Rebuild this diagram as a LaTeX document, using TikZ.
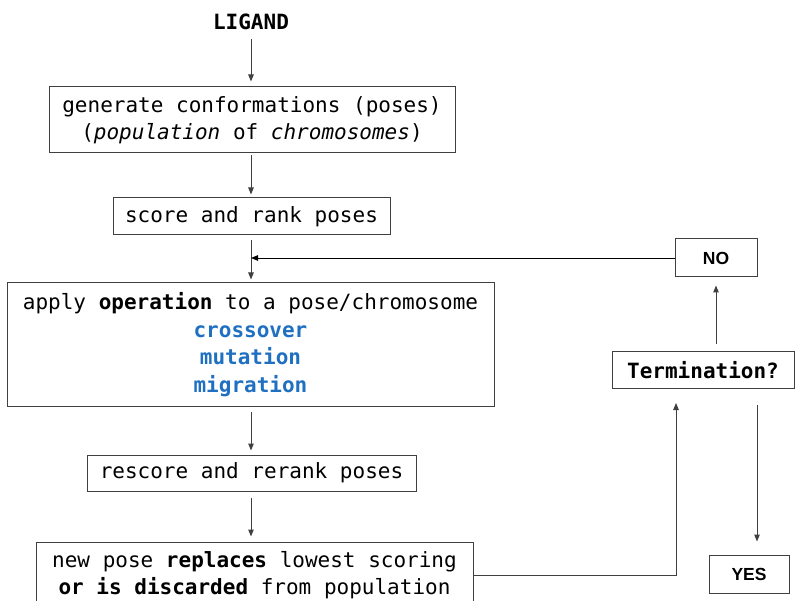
\documentclass[tikz,border=0pt]{standalone}
\usepackage{fontspec}
\setmonofont{DejaVu Sans Mono}
\newfontfamily\labfont{Liberation Sans}
\usetikzlibrary{arrows.meta}
\definecolor{opblue}{HTML}{1F70C0}
\definecolor{linegray}{HTML}{404040}
\tikzset{
  txt/.style={font=\ttfamily\fontsize{21}{27.5}\selectfont, align=center, inner sep=0pt},
  boxnode/.style={txt, draw=linegray, line width=1pt, rectangle},
  lab/.style={font=\labfont\bfseries\fontsize{17.5}{21}\selectfont, draw=linegray, line width=1pt, inner sep=0pt},
  conn/.style={draw=linegray, line width=1pt, -{Triangle[length=7pt,width=5.5pt]}}
}
\begin{document}
\begin{tikzpicture}[x=1pt,y=-1pt]
\useasboundingbox (0,0) rectangle (795,601);
\node[txt, font=\ttfamily\bfseries\fontsize{21}{27.5}\selectfont] (lig) at (251,22) {LIGAND};
\node[boxnode, minimum width=406pt, minimum height=66pt] (b1) at (252,120)
  {generate conformations (poses)\\(\textit{population} of \textit{chromosomes})};
\node[boxnode, minimum width=277pt, minimum height=37pt] (b2) at (251.5,216.5)
  {score and rank poses};
\node[boxnode, minimum width=487pt, minimum height=123pt] (b3) at (250.5,344.5)
  {apply \textbf{operation} to a pose/chromosome\\
   \textcolor{opblue}{\textbf{crossover}}\\
   \textcolor{opblue}{\textbf{mutation}}\\
   \textcolor{opblue}{\textbf{migration}}};
\node[boxnode, minimum width=329pt, minimum height=36pt] (b4) at (251.5,473)
  {rescore and rerank poses};
\node[boxnode, minimum width=437pt, minimum height=66pt] (b5) at (254.5,575)
  {new pose \textbf{replaces} lowest scoring\\\textbf{or is discarded} from population};
\node[lab, minimum width=82pt, minimum height=38pt] (no) at (716,258) {NO};
\node[boxnode, font=\ttfamily\bfseries\fontsize{21}{27.5}\selectfont, minimum width=182pt, minimum height=37pt] (term) at (703,370.5) {Termination?};
\node[lab, minimum width=80pt, minimum height=38pt] (yes) at (749,574) {YES};

\coordinate (join) at (251,258);
\coordinate (tin) at (676,389);
\coordinate (tout) at (757,389);

\draw[conn, shorten <=9pt, shorten >=5pt] (lig.south) -- (lig.south |- b1.north);
\draw[conn, shorten <=2pt, shorten >=3pt] (lig.south |- b1.south) -- (lig.south |- b2.north);
\draw[conn, shorten <=5pt, shorten >=3pt] (lig.south |- b2.south) -- (lig.south |- b3.north);
\draw[conn, draw=black, line width=0.9pt] (no.west) -- (join);
\draw[conn, shorten <=7pt, shorten >=8pt] (no.south |- term.north) -- (no.south);
\draw[conn, shorten <=5pt, shorten >=4pt] (lig.south |- b3.south) -- (lig.south |- b4.north);
\draw[conn, shorten <=6pt, shorten >=5pt] (lig.south |- b4.south) -- (lig.south |- b5.north);
\draw[conn, shorten >=14pt] (b5.east) -| (tin);
\draw[conn, shorten <=16pt, shorten >=13pt] (tout) -- (tout |- yes.north);
\end{tikzpicture}
\end{document}
